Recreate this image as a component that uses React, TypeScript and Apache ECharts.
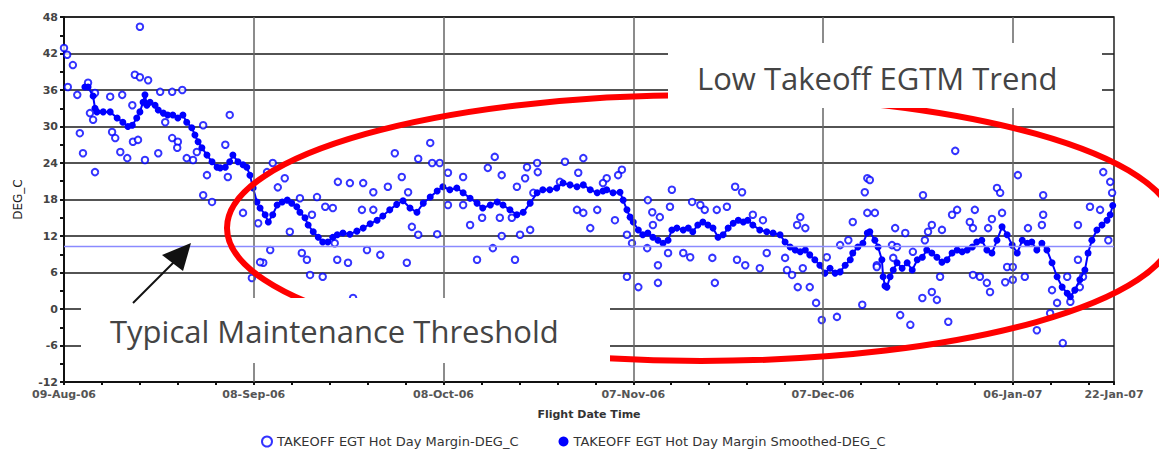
import React, { useEffect, useRef } from "react";
import * as echarts from "echarts";

// x = days since 09-Aug-06
const xLabelDays = [0, 30, 60, 90, 120, 150, 166];
const xLabelTexts = ["09-Aug-06", "08-Sep-06", "08-Oct-06", "07-Nov-06", "07-Dec-06", "06-Jan-07", "22-Jan-07"];
const majorGridDays = [30, 60, 90, 120, 150];
const thresholdValue = 10.3;

const rawName = "TAKEOFF EGT Hot Day Margin-DEG_C";
const smoothName = "TAKEOFF EGT Hot Day Margin Smoothed-DEG_C";

const rawPoints: [number, number][] = [
  [0, 42.9], [0.5, 41.8], [1.4, 40.1], [0.6, 36.5], [2.1, 35.2], [3.8, 37.2], [4.9, 35.5], [2.5, 28.9], [3.0, 25.6], [4.9, 22.5],
  [4.1, 32.2], [4.6, 31.1], [7.3, 34.9], [9.2, 35.2], [7.6, 29.1], [8.1, 28.1], [8.9, 25.8], [10.0, 24.8], [10.8, 33.5], [10.9, 27.5],
  [11.7, 27.8], [11.2, 38.5], [12.0, 38.1], [13.3, 37.6], [12.8, 24.5], [14.9, 25.6], [15.2, 35.7], [17.1, 35.7], [18.7, 36], [17.1, 28.1],
  [18.0, 27.5], [17.9, 26.5], [19.4, 24.8], [20.4, 24.5], [16.0, 30.7], [22.0, 30.2], [26.2, 31.9], [25.5, 27], [21.0, 25.8], [22.6, 22],
  [25.9, 21.7], [22.0, 18.7], [23.4, 17.6], [28.3, 15.8], [33.0, 24], [32.1, 22.5], [34.9, 21.5], [33.8, 20], [30.7, 14.1], [31.5, 7.6],
  [31.0, 7.7], [29.7, 5.1], [32.6, 9.7], [35.7, 12.7], [37.6, 9.2], [38.4, 8.1], [38.9, 5.6], [40.9, 5.3], [40.0, 18.4], [41.3, 16.8],
  [39.2, 15.5], [37.3, 18.2], [12.0, 46.4],
  [57.9, 27.3], [52.3, 25.6], [56.0, 24.7], [58.2, 24], [59.4, 24], [43.3, 20.9], [45.2, 20.7], [47.3, 20.7], [48.9, 19.2], [51.2, 20.1],
  [53.4, 21.7], [54.4, 19.2], [42.5, 16.6], [47.1, 16.3], [48.9, 16.3], [55.0, 13.5], [56.0, 12.2], [59.0, 12.3], [42.8, 10.8], [43.2, 8.1],
  [44.9, 7.6], [47.9, 9.7], [50.0, 8.9], [54.2, 7.6], [45.7, 1.8], [60.7, 22.4], [63.1, 21.7], [60.7, 17.1], [63.1, 17.1], [64.2, 13.8],
  [68.1, 25], [67.0, 23.2], [69.2, 22], [71.6, 20.1], [72.9, 21.5], [73.2, 23.3], [74.8, 24], [74.9, 22.5], [74.2, 19.1], [66.1, 15],
  [68.9, 15], [70.8, 15], [73.7, 13], [72.1, 12.2], [69.2, 12], [67.8, 10], [65.3, 8.1], [71.3, 8.1], [79.2, 24.2], [82.1, 24.8],
  [81.3, 22.4], [78.4, 20.9], [81.1, 16.3], [82.1, 15.8], [83.2, 13.3], [84.3, 16.3],
  [88.2, 22.9], [87.6, 22], [85.8, 21.5], [85.2, 20.7], [87.1, 14.6], [89.0, 12.2], [89.8, 10.8], [89.0, 5.3], [90.8, 3.6], [92.3, 17.9],
  [93.0, 15.9], [94.2, 15.1], [93.1, 13.8], [96.1, 19.6], [95.8, 16.8], [92.2, 10], [95.5, 9.2], [93.9, 7.2], [93.9, 4.3], [97.9, 9.2],
  [99.0, 8.5], [99.3, 17.6], [100.6, 17.1], [101.3, 16.3], [102.5, 8.4], [103.2, 16.3], [104.8, 16.8], [106.1, 20.1], [107.2, 19.2], [106.4, 8.1],
  [107.7, 7.2], [110.0, 6.7], [111.1, 9.2], [102.9, 4.3], [108.9, 15.5], [110.5, 14.6], [116.4, 15.1], [115.9, 13.8], [117.2, 13.3], [114.0, 8.4],
  [114.3, 6.4], [115.1, 5.6], [116.8, 6.7], [116.0, 3.6], [117.9, 3.6], [118.9, 1], [119.8, -1.8], [122.2, -1.3], [120.6, 8.5], [122.7, 10.5],
  [124.0, 11.3], [124.7, 14.3], [126.2, 0.7], [127.0, 21.5], [126.6, 19.2], [127.0, 15.8],
  [140.9, 26], [135.8, 18.7], [127.4, 21.2], [131.4, 13.3], [133.0, 12.5], [130.9, 10.5], [131.1, 8.4], [128.5, 7.2], [137.2, 13.8], [138.8, 13],
  [136.6, 12.7], [136.1, 11.3], [140.4, 15.5], [141.2, 16.3], [144.0, 16.3], [143.2, 14.3], [143.7, 13.3], [146.1, 13.3], [146.7, 14.8], [148.3, 15.8],
  [147.5, 19.9], [148.0, 19.1], [150.8, 22], [154.8, 18.7], [154.8, 15.5], [154.6, 13.8], [152.4, 13.3], [160.3, 13.8], [162.2, 16.8], [163.8, 16.3],
  [164.3, 22.5], [165.4, 20.9], [165.7, 19.1], [165.1, 11.3], [160.3, 8.1], [161.1, 5.3], [160.6, 3.6], [158.6, 5.3], [156.2, 3.1], [157.0, 1],
  [155.9, -0.7], [159.1, 1.2], [157.9, -5.6], [153.8, -3.5], [132.2, -1], [133.8, -2.6], [135.7, 1.8], [137.2, 2.8], [138.0, 1.5], [139.8, -2.1],
  [138.5, 5.3], [145.9, 4.3], [146.4, 2.8], [148.8, 4.4], [150.0, 4.8], [151.9, 5.3], [149.1, 6.9], [150.0, 6.9], [144.8, 5.3], [143.7, 5.6],
  [134.2, 9.4], [131.7, 10.2], [128.5, 6.9], [128.2, 15.8],
];

const smoothPoints: [number, number][] = [
  [3.3, 36.5], [3.8, 36.5], [4.6, 35], [4.9, 33], [5.2, 32.4], [6.2, 32.4], [7.3, 32.4], [8.4, 31.4], [9.3, 30.7], [10.1, 30],
  [10.8, 30.2], [11.5, 31.4], [12.0, 32.4], [12.5, 34], [12.8, 35.2], [13.1, 33.5], [13.6, 34], [14.4, 33.5], [14.9, 32.7], [15.7, 32.2],
  [16.4, 31.9], [17.2, 31.9], [18.0, 31.4], [18.8, 31.9], [19.4, 30.7], [20.2, 29.8], [20.7, 28.6], [21.2, 27.5], [21.8, 26.5], [22.6, 25.3],
  [23.4, 24.2], [24.2, 23.3], [24.7, 23.2], [25.5, 23.3], [26.2, 24.2], [26.7, 25.3], [27.5, 24.2], [28.3, 23.7], [28.9, 23.3], [29.4, 22],
  [29.9, 19.9], [30.5, 17.6], [31.0, 16.6], [31.8, 15.5], [32.3, 14.3], [33.0, 15.5], [33.7, 17.1], [34.5, 17.6], [35.3, 17.9], [36.0, 17.4],
  [36.8, 16.8], [37.3, 15.9], [38.1, 15], [38.6, 13.8], [39.4, 12.7], [40.2, 11.8], [40.9, 11], [41.7, 11],
  [42.5, 11.8], [43.2, 12.2], [44.1, 12.5], [45.2, 12.3], [46.3, 12.8], [47.3, 13.3], [48.4, 14], [49.5, 14.6], [50.4, 15.3], [51.5, 16.3],
  [52.6, 17.2], [53.6, 17.8], [54.7, 16.6], [55.8, 15.9], [56.8, 17.4], [57.9, 18.4], [59.0, 19.4], [59.9, 20.1], [61.0, 19.6], [62.1, 19.9],
  [63.1, 19.1], [64.2, 18.2], [65.3, 17.4], [66.2, 16.6], [67.4, 17.1], [68.5, 17.6], [69.4, 17.1], [70.5, 16.3], [71.6, 15.5], [72.6, 15.9],
  [73.7, 17.4], [74.8, 19.1], [75.7, 19.6], [76.8, 19.6], [77.9, 19.9], [78.9, 20.7], [80.0, 20.4], [81.1, 20.1], [82.1, 20.4], [83.2, 19.6],
  [84.3, 19.1],
  [85.2, 19.4], [85.8, 19.6], [86.8, 19.1], [87.9, 19.2], [88.4, 17.9], [89.0, 16.3], [89.5, 15.1], [90.0, 14.3], [90.8, 13], [91.5, 12.2],
  [92.3, 12.5], [93.1, 11.8], [93.9, 11.3], [94.7, 10.8], [95.5, 11.3], [96.1, 13], [96.9, 13.3], [97.9, 13], [98.7, 13.3], [99.4, 12.7],
  [100.2, 13.8], [101.0, 14.3], [101.8, 13.8], [102.6, 13.3], [103.4, 11.8], [104.2, 12.2], [105.0, 13.3], [105.8, 14.1], [106.6, 14.6], [107.4, 14.3],
  [108.1, 14.6], [108.9, 13.8], [110.0, 13], [111.1, 12.7], [112.1, 12.5], [113.2, 12.2], [114.0, 11], [114.8, 10.2], [115.6, 9.7], [116.4, 9.4],
  [117.2, 9.7], [117.9, 8.9], [118.7, 8.1], [119.5, 7.2], [120.3, 5.9], [121.1, 6.7], [121.9, 5.9], [122.7, 6.1], [123.5, 7.2], [124.3, 8.1],
  [124.7, 9.2], [125.5, 10.2], [126.3, 10.8], [127.0, 12.5],
  [127.4, 12.7], [128.2, 11.3], [128.7, 10.2], [129.3, 8.1], [129.5, 5.3], [129.8, 3.8], [130.1, 3.6], [130.6, 5.3], [131.1, 6.4], [131.7, 7.6],
  [132.5, 6.7], [133.3, 7.6], [134.1, 6.4], [134.9, 8.1], [135.7, 8.5], [136.4, 9.7], [137.2, 9.2], [138.0, 8.5], [138.8, 7.7], [139.6, 8.1],
  [140.4, 9.2], [141.2, 9.7], [142.0, 9.4], [142.8, 9.7], [143.6, 10.2], [144.3, 11], [145.1, 11.3], [145.9, 9.7], [146.7, 9.2], [147.5, 11.3],
  [148.3, 13.5], [149.1, 12.2], [149.9, 10.5], [150.7, 9.2], [151.5, 11.3], [152.3, 10.8], [153.0, 11], [153.8, 9.7], [154.6, 10.8], [155.4, 9.7],
  [156.2, 7.6], [157.0, 5.3], [157.8, 3.6], [158.6, 2.6], [159.1, 2], [159.8, 3.1], [160.6, 4.8], [161.4, 6.4], [161.9, 9.2], [162.5, 11.3],
  [163.3, 13], [164.1, 13.8], [164.9, 14.6], [165.4, 15.5], [165.8, 17],
];

const FONT = "DejaVu Sans";

export default function App() {
  const ref = useRef<HTMLDivElement>(null);
  useEffect(() => {
    if (!ref.current) return;
    const chart = echarts.init(ref.current, null, { renderer: "svg" });
    const labelFor = (v: number) => {
      const i = xLabelDays.findIndex((d) => Math.abs(d - v) < 1e-6);
      return i >= 0 ? xLabelTexts[i] : "";
    };
    chart.setOption({
      animation: false,
      backgroundColor: "#ffffff",
      grid: { left: 64, right: 45, top: 17, bottom: 68, show: true, borderColor: "#222", borderWidth: 1.5 },
      legend: {
        left: 256,
        top: 430,
        itemWidth: 10,
        itemHeight: 10,
        itemGap: 40,
        textStyle: { fontFamily: FONT, fontSize: 13, color: "#333" },
        data: [
          { name: rawName, icon: "emptyCircle" },
          { name: smoothName, icon: "circle" },
        ],
      },
      xAxis: {
        type: "value",
        min: 0,
        max: 166,
        interval: 6,
        name: "Flight Date Time",
        nameLocation: "middle",
        nameGap: 27,
        nameTextStyle: { fontFamily: FONT, fontSize: 11, fontWeight: "bold", color: "#333" },
        axisLine: { show: true, onZero: false, lineStyle: { color: "#111", width: 2 } },
        axisTick: { show: true, length: 3, lineStyle: { color: "#111", width: 2 } },
        axisLabel: {
          formatter: labelFor,
          fontFamily: FONT,
          fontSize: 11,
          fontWeight: "bold",
          color: "#555",
          margin: 7,
        },
        splitLine: { show: false },
      },
      yAxis: {
        type: "value",
        min: -12,
        max: 48,
        interval: 6,
        name: "DEG_C",
        nameLocation: "middle",
        nameGap: 40,
        nameTextStyle: { fontFamily: FONT, fontSize: 12, color: "#222" },
        axisLine: { show: true, onZero: false, lineStyle: { color: "#111", width: 2 } },
        axisTick: { show: true, length: 4, lineStyle: { color: "#111", width: 2 } },
        minorTick: { show: true, splitNumber: 2, length: 4, lineStyle: { color: "#111", width: 2 } },
        axisLabel: { fontFamily: FONT, fontSize: 11, fontWeight: "bold", color: "#444", margin: 6 },
        splitLine: { show: true, lineStyle: { color: "#1a1a1a", width: 1.5 } },
      },
      series: [
        {
          name: rawName,
          type: "scatter",
          symbol: "emptyCircle",
          symbolSize: 6.5,
          itemStyle: { color: "#0000ff", borderColor: "#0000ff", borderWidth: 1.5 },
          data: rawPoints,
          z: 3,
          markLine: {
            silent: true,
            symbol: ["none", "none"],
            label: { show: false },
            lineStyle: { color: "#666", width: 1.5, type: "solid" },
            data: majorGridDays.map((d) => ({ xAxis: d })),
          },
        },
        {
          name: smoothName,
          type: "line",
          symbol: "circle",
          symbolSize: 7,
          showAllSymbol: true,
          itemStyle: { color: "#0000ff" },
          lineStyle: { color: "#0000ff", width: 2 },
          data: smoothPoints,
          z: 4,
          markLine: {
            silent: true,
            symbol: ["none", "none"],
            label: { show: false },
            lineStyle: { color: "#8a8aff", width: 1.3, type: "solid" },
            data: [{ yAxis: thresholdValue }],
          },
        },
      ],
      graphic: [
        {
          type: "ellipse",
          z: 100,
          shape: { cx: 701, cy: 228, rx: 474, ry: 133 },
          style: { fill: "none", stroke: "#ff0000", lineWidth: 6 },
        },
        { type: "rect", z: 101, shape: { x: 668, y: 43, width: 434, height: 65 }, style: { fill: "#ffffff" } },
        { type: "rect", z: 101, shape: { x: 81, y: 298, width: 529, height: 65 }, style: { fill: "#ffffff" } },
        {
          type: "text",
          z: 102,
          x: 697,
          y: 78,
          style: { text: "Low Takeoff EGTM Trend", fontFamily: "Open Sans", fontSize: 31, fill: "#444", verticalAlign: "middle" },
        },
        {
          type: "text",
          z: 102,
          x: 110,
          y: 331,
          style: { text: "Typical Maintenance Threshold", fontFamily: "Open Sans", fontSize: 31, fill: "#444", verticalAlign: "middle" },
        },
        { type: "line", z: 103, shape: { x1: 133, y1: 303, x2: 175, y2: 261 }, style: { stroke: "#111", lineWidth: 2 } },
        { type: "polygon", z: 103, shape: { points: [[191, 243], [162, 255], [183, 271]] }, style: { fill: "#111" } },
      ],
    });
    return () => chart.dispose();
  }, []);
  return <div ref={ref} style={{ position: "fixed", left: 0, top: 0, width: 1159, height: 450, background: "#fff" }} />;
}
